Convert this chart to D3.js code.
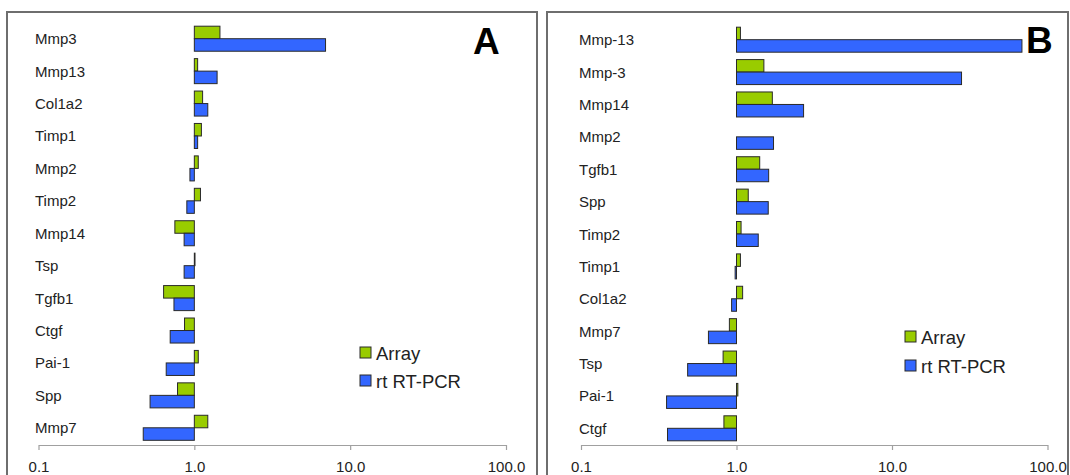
<!DOCTYPE html>
<html><head><meta charset="utf-8">
<script src="https://cdn.jsdelivr.net/npm/d3@7"></script>
<style>
html,body{margin:0;padding:0;background:#fff;}
svg{display:block;font-family:"Liberation Sans",Arial,sans-serif;}
</style></head>
<body>
<svg id="chart" width="1070" height="475"></svg>
<script>
// ---- data ----
const genesA = ["Mmp3","Mmp13","Col1a2","Timp1","Mmp2","Timp2","Mmp14","Tsp","Tgfb1","Ctgf","Pai-1","Spp","Mmp7"];
const arrayA = [1.46, 1.05, 1.13, 1.11, 1.06, 1.095, 0.75, 1.01, 0.635, 0.865, 1.06, 0.78, 1.22];
const pcrA   = [6.95, 1.40, 1.22, 1.05, 0.937, 0.895, 0.86, 0.86, 0.74, 0.70, 0.66, 0.52, 0.47];

const genesB = ["Mmp-13","Mmp-3","Mmp14","Mmp2","Tgfb1","Spp","Timp2","Timp1","Col1a2","Mmp7","Tsp","Pai-1","Ctgf"];
const arrayB = [1.06, 1.50, 1.70, null, 1.41, 1.19, 1.07, 1.06, 1.095, 0.90, 0.82, 1.02, 0.83];
const pcrB   = [68.5, 28.0, 2.70, 1.73, 1.61, 1.60, 1.38, 0.98, 0.93, 0.66, 0.485, 0.355, 0.36];

const tickValues = [0.1, 1, 10, 100];
const tickLabels = ["0.1", "1.0", "10.0", "100.0"];
const seriesNames = ["Array", "rt RT-PCR"];
const seriesColors = ["#99cc00", "#3366ff"];

// ---- drawing ----
const svg = d3.select("#chart");

function panel(cfg) {
  const g = svg.append("g");
  // frame (open at bottom)
  g.append("path")
    .attr("d", `M${cfg.fx0},480 V${cfg.fy0} H${cfg.fx1} V480`)
    .attr("fill", "none").attr("stroke", "#6e6e6e").attr("stroke-width", 2);

  const x = d3.scaleLog().domain([0.1, 100]).range([cfg.x0, cfg.x1]);
  const y = d3.scaleBand().domain(cfg.genes).range([cfg.y0, cfg.y1])
    .paddingInner(0.228).paddingOuter(0.114);
  const bh = y.bandwidth() / 2;

  const rows = cfg.genes.map((gname, i) => ({g: gname, a: cfg.arr[i], p: cfg.pcr[i]}));

  // axis
  const ax = g.append("g").attr("transform", `translate(0,${cfg.axisY})`)
    .call(d3.axisBottom(x).tickValues(tickValues)
      .tickFormat((d, i) => tickLabels[i]).tickSize(5).tickSizeOuter(0).tickPadding(11));
  ax.select(".domain").attr("stroke", "#a0a0a0").attr("stroke-width", 1.2);
  ax.selectAll(".tick line").attr("stroke", "#a0a0a0").attr("stroke-width", 1.2);
  ax.selectAll(".tick text").attr("font-size", 15).attr("fill", "#222")
    .attr("font-family", "'Liberation Sans',Arial,sans-serif");

  // bars
  const bars = g.append("g");
  bars.selectAll("rect.arr").data(rows.filter(r => r.a != null)).join("rect")
    .attr("class", "arr")
    .attr("x", d => Math.min(x(1), x(d.a)))
    .attr("width", d => Math.max(Math.abs(x(d.a) - x(1)), 0.6))
    .attr("y", d => y(d.g))
    .attr("height", bh)
    .attr("fill", seriesColors[0]).attr("stroke", "#2a2a2a").attr("stroke-width", 1);
  bars.selectAll("rect.pcr").data(rows.filter(r => r.p != null)).join("rect")
    .attr("class", "pcr")
    .attr("x", d => Math.min(x(1), x(d.p)))
    .attr("width", d => Math.max(Math.abs(x(d.p) - x(1)), 0.6))
    .attr("y", d => y(d.g) + bh)
    .attr("height", bh)
    .attr("fill", seriesColors[1]).attr("stroke", "#2a2a2a").attr("stroke-width", 1);

  // category labels
  g.selectAll("text.cat").data(rows).join("text")
    .attr("class", "cat")
    .attr("x", cfg.labelX)
    .attr("y", d => y(d.g) + y.bandwidth() / 2 + 5.5)
    .attr("font-size", 15).attr("fill", "#222")
    .text(d => d.g);

  // panel letter
  g.append("text").attr("x", cfg.letterX).attr("y", cfg.letterY)
    .attr("font-size", 37).attr("font-weight", "bold").attr("fill", "#000")
    .text(cfg.letter);

  // legend
  const lg = g.append("g").attr("transform", `translate(${cfg.legX},${cfg.legY})`);
  seriesNames.forEach((s, i) => {
    lg.append("rect").attr("x", 0).attr("y", i * cfg.legStep - 6)
      .attr("width", 11).attr("height", 11)
      .attr("fill", seriesColors[i]).attr("stroke", "#2a2a2a").attr("stroke-width", 1);
    lg.append("text").attr("x", 16).attr("y", i * cfg.legStep + 6.5)
      .attr("font-size", 18.5).attr("fill", "#222").text(s);
  });
}

panel({genes: genesA, arr: arrayA, pcr: pcrA,
  fx0: 7, fy0: 12, fx1: 537,
  x0: 38.5, x1: 506, y0: 22.5, y1: 444, axisY: 445,
  labelX: 35, letter: "A", letterX: 473, letterY: 54,
  legX: 360, legY: 353, legStep: 28});

panel({genes: genesB, arr: arrayB, pcr: pcrB,
  fx0: 547, fy0: 12, fx1: 1068,
  x0: 581, x1: 1047.5, y0: 23.5, y1: 444.5, axisY: 445,
  labelX: 579, letter: "B", letterX: 1026, letterY: 53,
  legX: 905, legY: 337, legStep: 29});
</script>
</body></html>
